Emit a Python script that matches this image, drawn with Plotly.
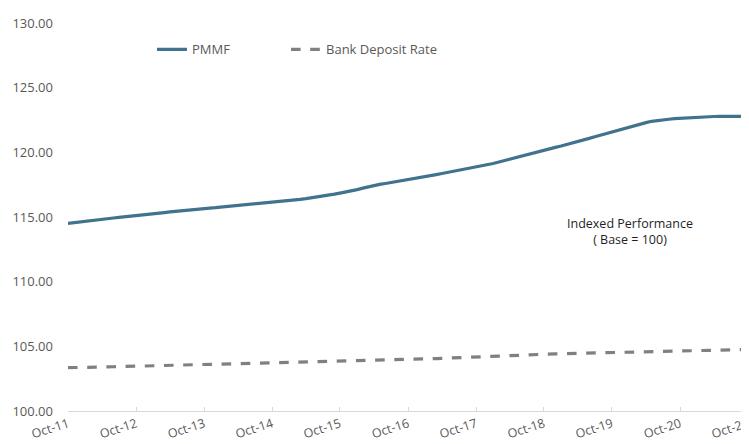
import plotly.graph_objects as go
import pandas as pd

dates = pd.date_range("2011-10-01", "2021-10-01", freq="MS")

pmmf = [
    114.50, 114.56, 114.61, 114.66, 114.72, 114.77, 114.82, 114.87, 114.92, 114.97, 115.01, 115.06,
    115.10, 115.15, 115.20, 115.24, 115.29, 115.34, 115.39, 115.44, 115.48, 115.52, 115.56, 115.60,
    115.65, 115.69, 115.72, 115.76, 115.80, 115.83, 115.87, 115.91, 115.95, 115.99, 116.03, 116.07,
    116.11, 116.15, 116.20, 116.25, 116.30, 116.36, 116.42, 116.48, 116.55, 116.62, 116.69, 116.77,
    116.85, 116.93, 117.02, 117.12, 117.23, 117.34, 117.44, 117.52, 117.59, 117.66, 117.73, 117.80,
    117.88, 117.96, 118.04, 118.12, 118.20, 118.28, 118.36, 118.44, 118.52, 118.60, 118.68, 118.77,
    118.86, 118.95, 119.04, 119.14, 119.25, 119.36, 119.47, 119.58, 119.70, 119.82, 119.94, 120.05,
    120.16, 120.27, 120.38, 120.49, 120.60, 120.71, 120.83, 120.95, 121.08, 121.21, 121.34, 121.46,
    121.58, 121.70, 121.82, 121.94, 122.06, 122.18, 122.30, 122.40, 122.47, 122.52, 122.56, 122.60,
    122.63, 122.66, 122.68, 122.70, 122.72, 122.75, 122.77, 122.78, 122.78, 122.78, 122.78, 122.78, 122.78,
]

deposit = [
    103.35, 103.35, 103.36, 103.37, 103.38, 103.39, 103.40, 103.41, 103.42, 103.43, 103.44, 103.45,
    103.46, 103.47, 103.48, 103.49, 103.50, 103.51, 103.52, 103.53, 103.54, 103.55, 103.56, 103.57,
    103.58, 103.59, 103.60, 103.61, 103.62, 103.63, 103.64, 103.65, 103.66, 103.67, 103.68, 103.69,
    103.70, 103.71, 103.72, 103.73, 103.74, 103.75, 103.76, 103.77, 103.78, 103.79, 103.80, 103.81,
    103.82, 103.83, 103.84, 103.85, 103.86, 103.87, 103.88, 103.89, 103.90, 103.91, 103.92, 103.94,
    103.96, 103.98, 104.00, 104.02, 104.03, 104.05, 104.07, 104.09, 104.10, 104.12, 104.14, 104.16,
    104.17, 104.19, 104.21, 104.23, 104.24, 104.26, 104.28, 104.30, 104.31, 104.33, 104.35, 104.37,
    104.38, 104.40, 104.42, 104.43, 104.44, 104.46, 104.47, 104.49, 104.50, 104.52, 104.53, 104.55,
    104.56, 104.57, 104.58, 104.59, 104.60, 104.61, 104.62, 104.63, 104.64, 104.65, 104.66, 104.67,
    104.68, 104.69, 104.70, 104.70, 104.71, 104.72, 104.73, 104.73, 104.74, 104.75, 104.75, 104.76, 104.76,
]

series_names = ["PMMF", "Bank Deposit Rate"]
annotation_text = "Indexed Performance<br>( Base = 100)"

font_family = "Open Sans, Liberation Sans, sans-serif"

fig = go.Figure()
fig.add_trace(go.Scatter(x=dates, y=pmmf, mode="lines", name=series_names[0],
                         line=dict(color="#41728e", width=3.2), legend="legend"))
fig.add_trace(go.Scatter(x=dates, y=deposit, mode="lines", name=series_names[1],
                         line=dict(color="#808080", width=3.2, dash="dash"), legend="legend2"))

legend_common = dict(orientation="h", y=0.932, xanchor="left", yanchor="middle",
                     bgcolor="rgba(0,0,0,0)", font=dict(size=13, color="#595959"))

fig.update_layout(
    width=741, height=436,
    margin=dict(l=60, r=1, t=15, b=33),
    paper_bgcolor="white", plot_bgcolor="white",
    font=dict(family=font_family, size=12, color="#595959"),
    showlegend=True,
    legend=dict(x=0.1235, **legend_common),
    legend2=dict(x=0.3206, **legend_common),
    xaxis=dict(
        type="date",
        range=["2011-10-01", "2021-10-01"],
        tick0="2011-10-01", dtick="M12", tickformat="%b-%y",
        showgrid=False, zeroline=False,
        showline=True, linecolor="#d9d9d9", linewidth=1,
        ticks="inside", ticklen=4, tickcolor="#d9d9d9",
        tickangle=-18, automargin=False, ticklabeloverflow="allow",
        tickfont=dict(size=12.5, color="#595959"),
    ),
    yaxis=dict(
        range=[100, 130], dtick=5, tickformat=".2f",
        showgrid=False, zeroline=False, showline=False,
        ticks="", ticklabelstandoff=14, automargin=False,
        tickfont=dict(size=13, color="#595959"),
    ),
    annotations=[dict(
        text=annotation_text, xref="paper", yref="paper",
        x=0.826, y=0.462, showarrow=False, xanchor="center", yanchor="middle",
        font=dict(size=12.5, color="#1f1f1f", family=font_family),
        align="center",
    )],
)

fig.write_html("out.html")
